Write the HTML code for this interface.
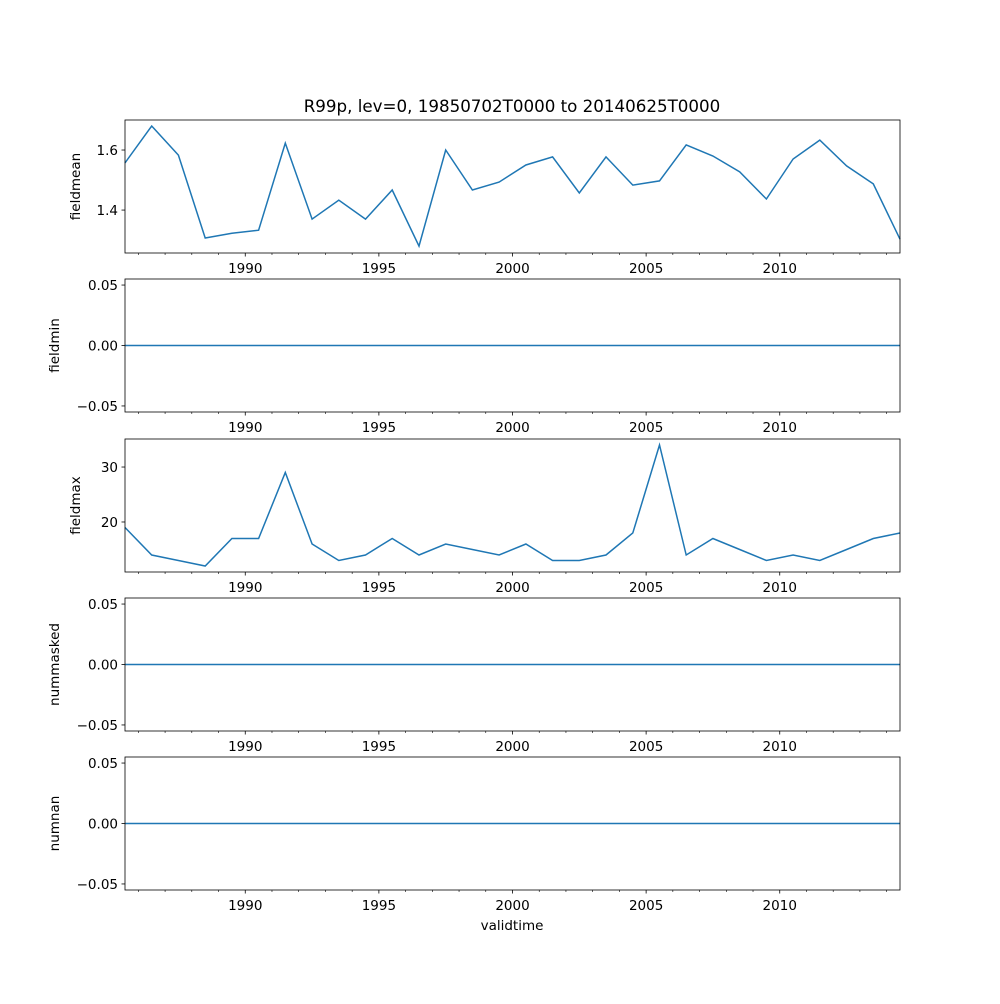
<!DOCTYPE html>
<html><head><meta charset="utf-8"><style>
body{margin:0;background:#fff;font-family:"DejaVu Sans",sans-serif}
</style></head><body>
<svg id="chart" width="1000" height="1000" xmlns="http://www.w3.org/2000/svg" font-family="DejaVu Sans, Liberation Sans, sans-serif">
<rect width="1000" height="1000" fill="#fff"/>
<text x="512" y="112" font-size="16.7" text-anchor="middle">R99p, lev=0, 19850702T0000 to 20140625T0000</text>
<text x="512" y="930" font-size="13.5" text-anchor="middle">validtime</text>
</svg>
<script>
const years = [1985,1986,1987,1988,1989,1990,1991,1992,1993,1994,1995,1996,1997,1998,1999,2000,2001,2002,2003,2004,2005,2006,2007,2008,2009,2010,2011,2012,2013,2014];
const fieldmean = [1.557,1.68,1.583,1.307,1.323,1.333,1.623,1.37,1.433,1.37,1.467,1.28,1.6,1.467,1.493,1.55,1.577,1.457,1.577,1.483,1.497,1.617,1.58,1.527,1.437,1.57,1.633,1.547,1.487,1.303];
const fieldmin = years.map(()=>0);
const fieldmax = [19,14,13,12,17,17,29,16,13,14,17,14,16,15,14,16,13,13,14,18,34,14,17,15,13,14,13,15,17,18];
const nummasked = years.map(()=>0);
const numnan = years.map(()=>0);
const xTicks = [1990,1995,2000,2005,2010];
const meanTicks = [1.4,1.6];
const zeroTicks = [-0.05,0.00,0.05];
const maxTicks = [20,30];

const NS="http://www.w3.org/2000/svg";
const svg=document.getElementById('chart');
function mk(t,a,p){const e=document.createElementNS(NS,t);for(const k in a)e.setAttribute(k,a[k]);(p||svg).appendChild(e);return e;}
const X0=125,X1=900,xmin=1985.5,xmax=2014.5;
const xs=v=>X0+(v-xmin)/(xmax-xmin)*(X1-X0);
const minus=s=>s.replace('-','\u2212');
const panels=[
 {name:'fieldmean',data:fieldmean,top:120,lo:1.257,hi:1.7,ticks:meanTicks,fmt:v=>v.toFixed(1),lx:80},
 {name:'fieldmin',data:fieldmin,top:279,lo:-0.055,hi:0.055,ticks:zeroTicks,fmt:v=>minus(v.toFixed(2)),lx:59},
 {name:'fieldmax',data:fieldmax,top:439,lo:10.9,hi:35.1,ticks:maxTicks,fmt:v=>String(v),lx:80},
 {name:'nummasked',data:nummasked,top:598,lo:-0.055,hi:0.055,ticks:zeroTicks,fmt:v=>minus(v.toFixed(2)),lx:59},
 {name:'numnan',data:numnan,top:757,lo:-0.055,hi:0.055,ticks:zeroTicks,fmt:v=>minus(v.toFixed(2)),lx:59}];
const H=133;
panels.forEach(p=>{
 const g=mk('g',{});
 
 
 const ys=v=>p.top+H-(v-p.lo)/(p.hi-p.lo)*H;
 const pts=years.map((y,i)=>xs(y+0.5).toFixed(1)+','+ys(p.data[i]).toFixed(1)).join(' ');
 const line=mk('polyline',{points:pts,fill:'none',stroke:'#1f77b4','stroke-width':1.5},g);
 
 
 const fr=mk('rect',{x:X0,y:p.top,width:X1-X0,height:H,fill:'none',stroke:'#000','stroke-width':0.8},g);
 
 
 p.ticks.forEach(t=>{const y=ys(t);mk('line',{x1:X0-3.5,x2:X0,y1:y,y2:y,stroke:'#000','stroke-width':0.8},g);
  const tx=mk('text',{x:X0-7,y:y+5,'font-size':13.5,'text-anchor':'end'},g);tx.textContent=p.fmt(t);
  
  });
 for(let yr=1986;yr<=2014;yr++){const x=xs(yr);const maj=xTicks.includes(yr);
  mk('line',{x1:x,x2:x,y1:p.top+H,y2:p.top+H+(maj?3.5:2),stroke:'#000','stroke-width':maj?0.8:0.6},g);}
 xTicks.forEach(t=>{const tx=mk('text',{x:xs(t),y:p.top+H+20,'font-size':13.5,'text-anchor':'middle'},g);tx.textContent=t;
  
  });
 const cy=p.top+H/2;
 const lab=mk('text',{x:p.lx,y:cy,'font-size':13.5,'text-anchor':'middle',transform:`rotate(-90 ${p.lx} ${cy})`},g);
 lab.textContent=p.name;
 
 
});
</script>
</body></html>
